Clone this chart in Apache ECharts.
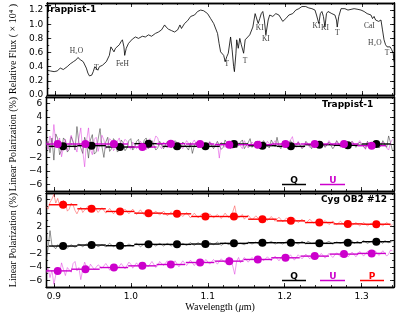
<!DOCTYPE html>
<html><head><meta charset="utf-8">
<script src="https://cdn.jsdelivr.net/npm/echarts@6/dist/echarts.min.js"></script>
<style>html,body{margin:0;padding:0;background:#fff}#c{width:399px;height:319px}</style>
</head><body><div id="c"></div>
<script>
// ---------- tick values ----------
const xMajor = [0.9, 1.0, 1.1, 1.2, 1.3];
const xMinor = [0.9,0.92,0.94,0.96,0.98,1.0,1.02,1.04,1.06,1.08,1.1,1.12,1.14,1.16,1.18,1.2,1.22,1.24,1.26,1.28,1.3,1.32,1.34];
const fluxMajor = [0, 0.2, 0.4, 0.6, 0.8, 1.0, 1.2];
const fluxMinor = [0,0.1,0.2,0.3,0.4,0.5,0.6,0.7,0.8,0.9,1.0,1.1,1.2,1.3];
const polMajor = [-6, -4, -2, 0, 2, 4, 6];
const polMinor = [-7,-6,-5,-4,-3,-2,-1,0,1,2,3,4,5,6,7];

// ---------- panel 1: Trappist-1 spectrum ----------
const fluxWl = [0.890,0.894,0.899,0.903,0.907,0.911,0.916,0.920,0.924,0.928,
0.930,0.933,0.935,0.937,0.939,0.941,0.943,0.945,0.948,0.950,
0.952,0.954,0.956,0.958,0.962,0.967,0.971,0.973,0.975,0.977,
0.979,0.984,0.986,0.988,0.990,0.991,0.993,0.996,1.001,1.005,
1.009,1.014,1.018,1.022,1.026,1.031,1.035,1.039,1.043,1.045,
1.048,1.052,1.056,1.060,1.063,1.065,1.069,1.073,1.077,1.082,
1.086,1.090,1.094,
1.099,1.103,1.107,1.112,1.114,1.116,1.118,1.120,1.122,1.124,
1.126,1.129,1.131,1.133,1.134,1.136,1.137,1.139,1.141,1.143,
1.146,1.148,1.150,1.154,1.158,1.161,1.163,1.165,1.167,1.169,
1.171,1.173,1.175,1.178,1.180,1.184,1.188,1.192,1.197,1.201,
1.205,1.210,1.214,1.218,1.222,1.227,1.231,1.235,1.239,1.241,
1.244,1.246,1.248,1.250,1.252,1.254,1.256,1.261,1.265,1.267,
1.268,1.270,1.273,1.278,1.282,1.286,1.290,1.295,1.299,1.303,
1.307,1.312,1.314,1.316,1.318,1.320,1.322,1.325,1.327,1.329,
1.331,1.333,1.335,1.337,1.339,1.341,1.342];
const fluxVal = [0.35,0.34,0.33,0.34,0.38,0.36,0.40,0.44,0.47,0.50,
0.53,0.50,0.49,0.47,0.45,0.38,0.31,0.27,0.28,0.33,
0.40,0.38,0.35,0.40,0.42,0.47,0.56,0.68,0.66,0.61,
0.66,0.71,0.75,0.78,0.68,0.56,0.66,0.73,0.79,0.82,
0.80,0.83,0.82,0.85,0.83,0.87,0.89,0.92,0.99,0.96,
0.93,0.91,0.89,0.92,0.99,0.94,1.01,1.05,1.11,1.13,
1.18,1.20,1.19,
1.15,1.08,1.01,0.87,0.73,0.61,0.59,0.56,0.47,0.54,
0.59,0.82,0.64,0.40,0.33,0.59,0.78,0.66,0.80,0.71,
0.59,0.78,0.80,0.85,0.96,1.15,1.13,1.01,1.08,1.15,
1.18,1.06,0.85,1.06,1.13,1.11,1.15,1.13,1.04,1.08,
1.13,1.15,1.20,1.22,1.25,1.25,1.23,1.22,1.20,1.13,
1.01,1.15,1.18,1.11,0.96,1.15,1.18,1.15,1.13,1.06,
0.96,1.11,1.22,1.22,1.20,1.21,1.22,1.21,1.20,1.18,
1.15,1.13,1.08,1.11,1.06,1.08,1.04,1.06,0.92,0.78,
0.71,0.68,0.66,0.68,0.64,0.59,0.47];

const annText = ['H₂O','T','FeH','T','T','KI','KI','KI','KI','T','CaI','H₂O','T'];
const annWl   = [0.928,0.954,0.988,1.124,1.148,1.167,1.175,1.241,1.252,1.268,1.310,1.317,1.333];
const annFlux = [0.62,0.38,0.44,0.44,0.48,0.95,0.79,0.97,0.95,0.88,0.97,0.73,0.59];

// ---------- panels 2 & 3: polarization ----------
const noiseWl = [
0.8900,0.8925,0.8950,0.8975,0.9000,0.9025,0.9050,0.9075,0.9100,0.9125,0.9150,0.9175,0.9200,0.9225,0.9250,0.9275,0.9300,0.9325,0.9350,0.9375,
0.9400,0.9425,0.9450,0.9475,0.9500,0.9525,0.9550,0.9575,0.9600,0.9625,0.9650,0.9675,0.9700,0.9725,0.9750,0.9775,0.9800,0.9825,0.9850,0.9875,
0.9900,0.9925,0.9950,0.9975,1.0000,1.0025,1.0050,1.0075,1.0100,1.0125,1.0150,1.0175,1.0200,1.0225,1.0250,1.0275,1.0300,1.0325,1.0350,1.0375,
1.0400,1.0425,1.0450,1.0475,1.0500,1.0525,1.0550,1.0575,1.0600,1.0625,1.0650,1.0675,1.0700,1.0725,1.0750,1.0775,1.0800,1.0825,1.0850,1.0875,
1.0900,1.0925,1.0950,1.0975,1.1000,1.1025,1.1050,1.1075,1.1100,1.1125,1.1150,1.1175,1.1200,1.1225,1.1250,1.1275,1.1300,1.1325,1.1350,1.1375,
1.1400,1.1425,1.1450,1.1475,1.1500,1.1525,1.1550,1.1575,1.1600,1.1625,1.1650,1.1675,1.1700,1.1725,1.1750,1.1775,1.1800,1.1825,1.1850,1.1875,
1.1900,1.1925,1.1950,1.1975,1.2000,1.2025,1.2050,1.2075,1.2100,1.2125,1.2150,1.2175,1.2200,1.2225,1.2250,1.2275,1.2300,1.2325,1.2350,1.2375,
1.2400,1.2425,1.2450,1.2475,1.2500,1.2525,1.2550,1.2575,1.2600,1.2625,1.2650,1.2675,1.2700,1.2725,1.2750,1.2775,1.2800,1.2825,1.2850,1.2875,
1.2900,1.2925,1.2950,1.2975,1.3000,1.3025,1.3050,1.3075,1.3100,1.3125,1.3150,1.3175,1.3200,1.3225,1.3250,1.3275,1.3300,1.3325,1.3350,1.3375,
1.3400];
const trapQ = [
-0.6,0.4,-1.3,0.9,-2.4,1.5,0.8,-1.6,-0.9,0.9,0.5,-1.2,-0.8,1.1,0.3,-0.9,2.6,0.2,-0.6,-1.4,
1.0,0.1,-2.1,0.6,1.4,-1.5,-1.2,0.7,2.3,-0.4,-2.0,0.3,1.0,-1.1,-0.7,0.8,0.4,-1.2,-0.9,0.6,
0.2,-1.0,-0.6,0.5,0.8,-0.9,-0.5,0.4,0.7,-0.8,-0.4,0.6,0.9,-0.7,-0.3,0.5,0.6,-0.9,-0.6,0.4,
0.5,-0.7,-0.5,0.4,0.3,-0.6,-0.8,0.5,0.2,-0.9,-0.6,0.3,0.4,-0.5,-0.9,0.2,-1.4,-0.3,0.3,-0.6,
-0.7,0.2,0.4,-0.6,-0.8,0.3,0.5,-0.7,-0.6,0.4,0.3,-0.8,-0.5,0.6,0.4,-0.4,-0.7,0.2,0.5,-0.6,
-0.4,0.3,0.6,-0.7,-0.6,0.2,0.8,-0.5,-0.5,0.4,0.3,-0.7,-0.8,0.5,0.4,-0.3,-0.6,0.6,0.5,-0.4,
1.0,-0.3,-0.7,0.4,0.3,-0.6,-0.5,0.5,0.6,-0.4,-0.6,0.3,0.2,-0.7,-0.4,0.4,0.5,-0.3,-0.7,0.3,
0.3,-0.6,-0.4,0.4,0.5,-0.5,-0.6,0.3,0.2,-0.7,-0.3,0.5,0.4,-0.4,-0.5,0.3,0.3,-0.5,-0.6,0.4,
0.2,-0.5,-0.4,0.3,0.5,-0.4,-0.7,0.4,0.2,-0.6,-0.5,0.3,0.4,-0.6,-0.3,0.5,0.6,-0.5,1.2,0.2,
-1.0];
const trapU = [
0.5,-0.8,1.2,-0.6,2.9,0.2,-0.4,0.9,-1.9,-0.5,0.7,-1.0,-0.8,1.3,0.4,-0.3,-1.2,0.8,2.4,-1.0,
-3.4,0.5,2.4,-0.8,-1.6,0.7,1.0,-1.1,-1.2,1.3,0.6,-0.7,-0.9,0.8,0.5,-1.0,-0.6,0.4,0.9,-0.5,
-0.5,0.7,0.4,-0.4,-0.8,0.3,0.5,-0.7,-0.6,0.4,0.6,-0.5,-0.9,0.3,0.8,-0.6,-0.4,1.2,0.9,-0.3,
-0.7,0.3,0.5,-0.6,-0.3,0.4,0.6,-0.5,-0.5,0.3,0.4,-0.7,-0.6,0.5,0.7,-0.3,-0.4,0.6,0.5,-0.6,
-0.7,0.4,0.3,-0.6,-0.5,0.4,0.6,-0.3,-0.4,0.2,-2.1,0.3,0.5,-0.5,-0.6,0.4,0.4,-0.7,-0.5,0.5,
0.6,-0.3,-0.7,0.5,0.4,-0.6,-0.4,0.3,0.5,-0.4,-0.6,0.5,0.3,-0.7,-0.5,0.4,0.6,-0.3,-0.4,0.5,
0.5,-0.4,-0.6,0.3,0.4,-0.5,-0.3,0.6,1.1,-0.2,-0.5,0.4,0.4,-0.6,-0.6,0.3,0.5,-0.5,-0.4,0.4,
0.6,-0.3,-0.5,0.4,0.3,-0.4,-0.6,0.5,0.4,-0.3,-0.5,0.4,0.6,-0.5,-0.4,0.3,0.3,-0.6,-0.7,0.4,
0.4,-0.3,-0.5,0.5,0.3,-0.4,-0.8,0.3,0.5,-0.6,-0.4,0.5,0.6,-0.4,-0.5,0.3,0.4,-0.6,-0.9,0.2,
0.7];
const cygP = [
5.0,4.6,5.6,6.1,6.8,5.5,6.2,5.1,5.0,5.9,5.6,4.3,4.6,5.5,5.2,4.4,3.9,4.5,4.9,4.1,
4.3,4.8,5.1,4.2,4.4,5.0,4.9,4.1,4.2,4.8,4.7,4.0,4.0,4.7,4.6,3.9,4.1,4.6,4.5,4.0,
4.0,4.6,4.4,3.9,4.1,4.6,4.5,3.8,3.9,4.5,4.4,3.7,3.9,4.5,4.3,3.8,3.8,4.3,4.4,3.7,
3.9,4.3,4.1,3.6,3.7,4.2,4.2,3.5,3.7,4.1,4.0,3.5,3.6,4.1,3.9,3.3,3.4,4.0,3.8,3.3,
3.5,3.9,3.7,3.2,3.3,3.9,3.8,3.3,3.4,3.8,3.7,3.2,3.6,4.0,3.9,3.3,3.4,4.2,5.1,3.6,
3.3,3.5,3.8,3.1,3.2,3.7,3.6,3.0,3.1,3.6,3.5,3.0,3.0,3.5,3.4,2.9,3.1,3.5,3.3,2.8,
2.9,3.4,3.3,2.7,2.8,3.3,3.2,2.7,2.9,3.2,3.1,2.6,2.7,3.1,3.0,2.5,2.6,3.1,3.0,2.5,
2.7,3.0,2.9,2.4,2.5,2.9,2.8,2.3,2.4,2.8,2.7,2.3,2.4,2.8,2.6,2.2,2.3,2.7,2.6,2.2,
2.3,2.6,2.5,2.1,2.2,2.6,2.5,2.1,2.2,2.5,2.4,2.0,2.1,2.5,2.5,2.1,2.2,2.6,2.6,2.1,
2.3];
const cygQ = [
-3.0,-1.2,1.4,-0.8,-1.0,-1.3,-0.7,-1.0,-1.1,-0.7,-0.8,-1.2,-1.0,-0.7,-0.6,-1.1,-0.9,-0.6,-0.5,-1.0,
-1.0,-0.6,-0.7,-1.1,-0.9,-0.6,-0.6,-1.0,-1.1,-0.7,-0.7,-1.0,-0.9,-0.5,-0.6,-1.0,-0.8,-0.6,-1.0,-0.7,
-0.7,-1.0,-0.9,-0.6,-0.6,-0.9,-0.8,-0.5,-0.7,-1.0,-0.9,-0.6,-0.6,-0.9,-0.8,-0.5,-0.5,-0.9,-0.8,-0.5,
-0.6,-0.9,-0.8,-0.5,-0.6,-0.9,-0.7,-0.4,-0.5,-0.8,-0.8,-0.5,-0.6,-0.8,-0.7,-0.4,-0.5,-0.8,-0.7,-0.4,
-0.6,-0.8,-0.5,-0.7,-0.7,-0.4,-0.4,-0.7,-0.6,-0.3,-0.5,-0.8,-0.7,-0.4,-0.4,-0.7,-0.6,-0.3,-0.2,-0.6,
-0.7,-0.5,-0.4,-0.7,-0.5,-0.3,-0.3,-0.6,-0.6,-0.3,-0.4,-0.7,-0.5,-0.3,-0.2,-0.5,-0.5,-0.2,-0.4,-0.6,
-0.6,-0.4,-0.3,-0.6,-0.5,-0.2,-0.4,-0.6,-0.6,-0.3,-0.3,-0.6,-0.5,-0.2,-0.4,-0.6,-0.2,-0.4,-0.5,-0.3,
-0.4,-0.2,-0.6,-0.3,-0.3,-0.5,-0.5,-0.2,-0.4,-0.6,-0.6,-0.3,-0.3,-0.5,-0.5,-0.2,-0.4,-0.5,-0.3,-0.1,
-0.5,-0.3,-0.2,-0.5,-0.4,-0.1,-0.3,-0.5,-0.5,-0.2,-0.2,-0.4,-0.4,-0.1,-0.3,-0.5,-0.1,0.1,-0.4,-0.2,
-0.2];
const cygU = [
-4.9,-4.2,-5.6,-4.5,-6.6,-5.2,-4.2,-5.0,-3.4,-4.4,-5.3,-4.1,-4.0,-4.8,-3.5,-3.2,-4.6,-4.1,-5.9,-4.4,
-3.3,-4.0,-4.5,-3.6,-3.8,-4.4,-4.6,-3.7,-3.5,-4.2,-4.4,-3.5,-3.9,-4.5,-4.3,-3.6,-3.6,-4.3,-4.1,-3.5,
-3.4,-4.3,-4.2,-3.3,-3.6,-4.2,-4.0,-3.4,-3.5,-4.3,-4.1,-3.4,-3.3,-4.0,-3.9,-3.2,-3.4,-4.1,-3.8,-3.2,
-3.2,-3.8,-3.9,-3.1,-3.4,-3.9,-3.7,-3.1,-3.3,-4.0,-3.8,-3.1,-3.2,-3.8,-3.6,-3.0,-3.1,-3.8,-3.7,-3.0,
-3.2,-3.7,-3.5,-2.9,-3.0,-3.6,-3.6,-2.9,-3.1,-3.6,-3.4,-2.8,-2.8,-3.4,-3.5,-2.5,-3.0,-3.9,-5.1,-3.2,
-2.6,-3.4,-3.3,-2.6,-2.8,-3.3,-3.2,-2.6,-2.7,-3.3,-3.1,-2.5,-2.6,-3.1,-3.2,-2.5,-2.5,-3.1,-3.0,-2.4,
-2.6,-3.1,-2.9,-2.3,-2.3,-2.9,-2.9,-2.2,-2.4,-3.0,-2.8,-2.2,-2.3,-2.8,-2.7,-2.1,-2.2,-2.8,-2.6,-2.1,
-2.3,-2.7,-2.5,-2.0,-2.1,-2.7,-2.6,-2.0,-2.2,-2.6,-2.4,-1.9,-2.0,-2.5,-2.5,-1.8,-1.9,-2.5,-2.4,-1.8,
-2.0,-2.5,-2.3,-1.7,-1.8,-2.4,-2.4,-1.7,-1.9,-2.5,-2.2,-1.6,-1.7,-2.3,-2.3,-1.6,-1.8,-2.4,-2.1,-1.5,
-1.6];

// binned values
const binHalf = 0.0185;
const binQWl = [0.912,0.949,0.986,1.023,1.060,1.097,1.134,1.171,1.208,1.245,1.282,1.319];
const binUWl = [0.905,0.941,0.978,1.015,1.052,1.090,1.128,1.165,1.201,1.239,1.277,1.313];
const trapQBin = [-0.35,-0.25,-0.45,0.05,-0.35,-0.35,0.0,-0.25,-0.35,-0.1,-0.2,0.0];
const trapUBin = [0.0,0.0,0.0,-0.45,0.05,0.0,-0.1,-0.1,0.0,0.0,0.0,-0.25];
const cygPBin = [5.25,4.65,4.25,4.0,3.9,3.5,3.5,3.1,2.85,2.6,2.4,2.35];
const cygQBin = [-0.9,-0.75,-0.85,-0.65,-0.65,-0.6,-0.5,-0.4,-0.4,-0.5,-0.4,-0.25];
const cygUBin = [-4.6,-4.35,-4.1,-3.85,-3.65,-3.35,-3.15,-2.9,-2.65,-2.4,-2.1,-2.0];

// ---------- build ----------
const X_MIN = 0.89, X_MAX = 1.342;
const BLACK = '#000', MAG = '#cc00cc', RED = '#ff0000';
const serif = 'Liberation Serif';
const sans = 'DejaVu Sans';
const zip = (a, b) => a.map((v, i) => [v, b[i]]);
const minus = v => (v < 0 ? '\u2212' + Math.abs(v) : String(v));

function xAxes(g, withLabels, name) {
  const base = (pos, ticks, len, lab) => ({
    type: 'value', gridIndex: g, position: pos, min: X_MIN, max: X_MAX,
    axisLine: { show: true, onZero: false, lineStyle: { color: BLACK, width: 1.3 } },
    axisTick: { show: true, inside: true, length: len, customValues: ticks, lineStyle: { color: BLACK, width: 0.8 } },
    axisLabel: { show: lab, customValues: xMajor, formatter: v => v.toFixed(1), color: BLACK, fontFamily: sans, fontSize: 9, margin: 5 },
    splitLine: { show: false }
  });
  const a = base('bottom', xMajor, 4, withLabels);
  if (name) {
    a.name = '{r|Wavelength (}{i|μ}{r|m)}';
    a.nameLocation = 'middle';
    a.nameGap = 15;
    a.nameTextStyle = { rich: { r: { fontFamily: serif, fontSize: 10, color: BLACK }, i: { fontFamily: serif, fontStyle: 'italic', fontSize: 10, color: BLACK } } };
  }
  return [a, base('bottom', xMinor, 2, false), base('top', xMajor, 4, false), base('top', xMinor, 2, false)];
}
function yAxes(g, min, max, major, minor, fmt, name) {
  const base = (pos, ticks, len, lab) => ({
    type: 'value', gridIndex: g, position: pos, min: min, max: max,
    axisLine: { show: true, onZero: false, lineStyle: { color: BLACK, width: 1.3 } },
    axisTick: { show: true, inside: true, length: len, customValues: ticks, lineStyle: { color: BLACK, width: 0.8 } },
    axisLabel: { show: lab, customValues: major, formatter: fmt, color: BLACK, fontFamily: sans, fontSize: 9, margin: 4 },
    splitLine: { show: false }
  });
  const a = base('left', major, 4, true);
  a.name = name; a.nameLocation = 'middle'; a.nameGap = 25;
  a.nameTextStyle = { fontFamily: serif, fontSize: 10, color: BLACK };
  return [a, base('left', minor, 2, false), base('right', major, 4, false), base('right', minor, 2, false)];
}

function noisy(g, ys, color, w) {
  return { type: 'line', xAxisIndex: 4 * g, yAxisIndex: 4 * g, data: zip(noiseWl, ys), showSymbol: false,
    lineStyle: { color: color, width: w }, z: 2, silent: true, animation: false };
}
function bins(g, wl, vals, color) {
  return { type: 'custom', xAxisIndex: 4 * g, yAxisIndex: 4 * g, data: zip(wl, vals), z: 4, silent: true, animation: false,
    renderItem: (params, api) => {
      const c = api.value(0), v = api.value(1);
      const p1 = api.coord([Math.max(c - binHalf, X_MIN), v]);
      const p2 = api.coord([Math.min(c + binHalf, X_MAX), v]);
      return { type: 'line', shape: { x1: p1[0], y1: p1[1], x2: p2[0], y2: p2[1] }, style: { stroke: color, lineWidth: 1.4 } };
    } };
}
function dots(g, wl, vals, color) {
  return { type: 'scatter', xAxisIndex: 4 * g, yAxisIndex: 4 * g, data: zip(wl, vals), symbolSize: 8,
    itemStyle: { color: color, opacity: 1 }, z: 5, silent: true, animation: false };
}

const option = {
  animation: false,
  backgroundColor: '#fff',
  grid: [
    { left: 40, right: 5, top: 3, height: 92 },
    { left: 40, right: 5, top: 97, height: 94 },
    { left: 40, right: 5, top: 193, height: 94 }
  ],
  xAxis: [].concat(xAxes(0, false), xAxes(1, false), xAxes(2, true, true)),
  yAxis: [].concat(
    yAxes(0, 0, 1.3, fluxMajor, fluxMinor, v => v.toFixed(1), 'Relative Flux ( × 10⁴ )'),
    yAxes(1, -7, 7, polMajor, polMinor, minus, 'Linear Polarization (%)'),
    yAxes(2, -7, 7, polMajor, polMinor, minus, 'Linear Polarization (%)')
  ),
  title: [
    { text: 'Trappist-1', left: 45, top: 5, padding: 0, textStyle: { fontFamily: sans, fontWeight: 'bold', fontSize: 9, color: BLACK } },
    { text: 'Trappist-1', left: 322, top: 100, padding: 0, textStyle: { fontFamily: sans, fontWeight: 'bold', fontSize: 9, color: BLACK } },
    { text: 'Cyg OB2 #12', left: 321, top: 195, padding: 0, textStyle: { fontFamily: sans, fontWeight: 'bold', fontSize: 9, color: BLACK } }
  ],
  graphic: [
    { type: 'text', x: 294, y: 176, style: { text: 'Q', fill: BLACK, font: 'bold 9px "DejaVu Sans"', textAlign: 'center' } },
    { type: 'line', shape: { x1: 282, y1: 184.5, x2: 306, y2: 184.5 }, style: { stroke: BLACK, lineWidth: 1.5 } },
    { type: 'text', x: 333, y: 176, style: { text: 'U', fill: MAG, font: 'bold 9px "DejaVu Sans"', textAlign: 'center' } },
    { type: 'line', shape: { x1: 320, y1: 184.5, x2: 345, y2: 184.5 }, style: { stroke: MAG, lineWidth: 1.5 } },
    { type: 'text', x: 294, y: 272, style: { text: 'Q', fill: BLACK, font: 'bold 9px "DejaVu Sans"', textAlign: 'center' } },
    { type: 'line', shape: { x1: 282, y1: 280.5, x2: 306, y2: 280.5 }, style: { stroke: BLACK, lineWidth: 1.5 } },
    { type: 'text', x: 333, y: 272, style: { text: 'U', fill: MAG, font: 'bold 9px "DejaVu Sans"', textAlign: 'center' } },
    { type: 'line', shape: { x1: 320, y1: 280.5, x2: 345, y2: 280.5 }, style: { stroke: MAG, lineWidth: 1.5 } },
    { type: 'text', x: 372, y: 272, style: { text: 'P', fill: RED, font: 'bold 9px "DejaVu Sans"', textAlign: 'center' } },
    { type: 'line', shape: { x1: 360, y1: 280.5, x2: 384, y2: 280.5 }, style: { stroke: RED, lineWidth: 1.5 } }
  ],
  series: [
    { type: 'line', xAxisIndex: 0, yAxisIndex: 0, data: zip(fluxWl, fluxVal), showSymbol: false,
      lineStyle: { color: BLACK, width: 0.8 }, silent: true },
    { type: 'scatter', xAxisIndex: 0, yAxisIndex: 0, symbolSize: 0, silent: true,
      data: annWl.map((w, i) => [w, annFlux[i], annText[i]]),
      label: { show: true, position: 'inside', formatter: p => p.data[2], fontFamily: serif, fontSize: 7.5, color: BLACK } },
    noisy(1, trapQ, 'rgba(40,40,40,0.85)', 0.6),
    noisy(1, trapU, 'rgba(220,40,220,0.8)', 0.6),
    bins(1, binQWl, trapQBin, BLACK), bins(1, binUWl, trapUBin, MAG),
    dots(1, binQWl, trapQBin, BLACK), dots(1, binUWl, trapUBin, MAG),
    noisy(2, cygP, 'rgba(255,50,50,0.8)', 0.6),
    noisy(2, cygQ, 'rgba(40,40,40,0.85)', 0.6),
    noisy(2, cygU, 'rgba(220,40,220,0.8)', 0.6),
    bins(2, binQWl, cygPBin, RED), bins(2, binQWl, cygQBin, BLACK), bins(2, binUWl, cygUBin, MAG),
    dots(2, binQWl, cygPBin, RED), dots(2, binQWl, cygQBin, BLACK), dots(2, binUWl, cygUBin, MAG)
  ]
};
const chart = echarts.init(document.getElementById('c'), null, { renderer: 'canvas' });
chart.setOption(option);
</script></body></html>
